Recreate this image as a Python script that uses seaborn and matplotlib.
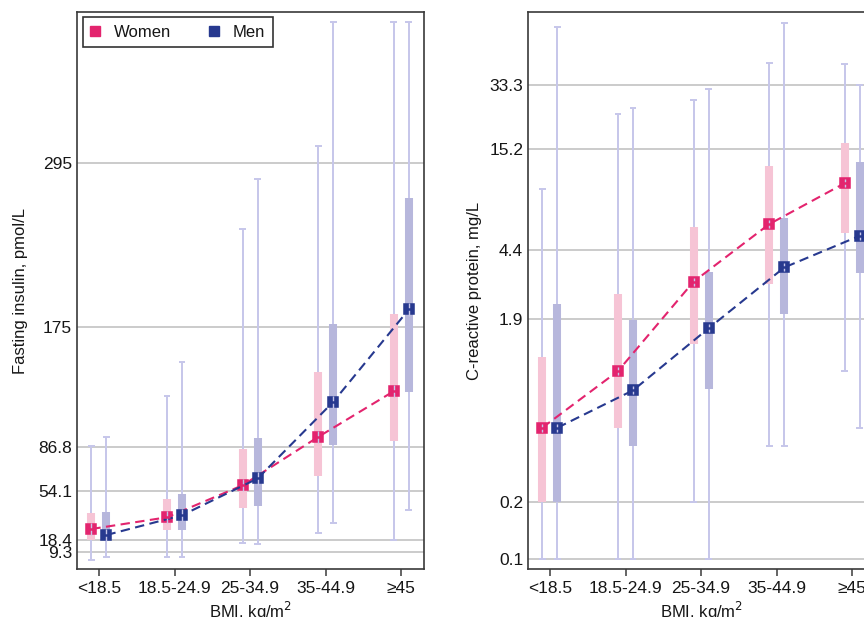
# BMI category vs fasting insulin and CRP, women vs men (median, IQR, range)

import numpy as np
import pandas as pd
import seaborn as sns
import matplotlib.pyplot as plt
from matplotlib.lines import Line2D

# categories
bmi_cats = ["<18.5", "18.5-24.9", "25-34.9", "35-44.9", "\u226545"]
sexes = ["Women", "Men"]

# fasting insulin, pmol/L
ins_w_med = [26.4, 35.0, 58.5, 94.0, 127.6]
ins_w_q1 = [18.5, 25.4, 42.1, 65.4, 91.1]
ins_w_q3 = [38.2, 48.2, 84.8, 141.8, 184.3]
ins_w_lo = [3.9, 5.8, 16.1, 23.7, 18.1]
ins_w_hi = [87.4, 124.0, 246.5, 307.8, 399.0]

ins_m_med = [22.0, 36.5, 63.5, 119.8, 187.7]
ins_m_q1 = [18.3, 26.0, 43.1, 88.4, 126.7]
ins_m_q3 = [38.9, 52.4, 92.9, 176.9, 269.3]
ins_m_lo = [5.8, 5.8, 15.7, 31.1, 40.7]
ins_m_hi = [94.0, 149.0, 283.5, 399.0, 399.0]

# C-reactive protein, mg/L
crp_w_med = [0.5, 1.0, 2.99, 6.05, 10.0]
crp_w_q1 = [0.2, 0.5, 1.40, 2.9, 5.42]
crp_w_q3 = [1.19, 2.57, 5.86, 12.36, 16.4]
crp_w_lo = [0.1, 0.1, 0.2, 0.4, 1.0]
crp_w_hi = [9.3, 23.3, 27.8, 43.8, 42.9]

crp_m_med = [0.5, 0.79, 1.69, 3.56, 5.25]
crp_m_q1 = [0.2, 0.4, 0.8, 2.01, 3.31]
crp_m_q3 = [2.27, 1.88, 3.35, 6.51, 12.98]
crp_m_lo = [0.1, 0.1, 0.1, 0.4, 0.5]
crp_m_hi = [68.0, 25.2, 31.8, 71.4, 33.3]

# y tick labels
ins_ticks = [9.3, 18.4, 54.1, 86.8, 175, 295]
ins_ticklabels = ["9.3", "18.4", "54.1", "86.8", "175", "295"]
crp_ticks = [0.1, 0.2, 1.9, 4.4, 15.2, 33.3]
crp_ticklabels = ["0.1", "0.2", "1.9", "4.4", "15.2", "33.3"]

PINK = "#e3246e"
NAVY = "#27398f"
PINK_BOX = "#f6c4d5"
NAVY_BOX = "#b7b7dc"
WHISK = "#c6c6ea"
TXT = "#161616"

sns.set_style("white")
plt.rcParams['font.family'] = ['Liberation Sans', 'DejaVu Sans']

fig = plt.figure(figsize=(8.64, 6.17), dpi=100)
ax1 = fig.add_axes([0.0891, 0.0778, 0.4016, 0.9027])
ax2 = fig.add_axes([0.6111, 0.0778, 0.4016, 0.9027])

DODGE = 0.1


def draw_panel(ax, stats, log=False):
    xs = np.arange(len(bmi_cats))
    for i, (sex, (med, q1, q3, lo, hi)) in enumerate(stats.items()):
        off = -DODGE if i == 0 else DODGE
        x = xs + off
        box_col = PINK_BOX if sex == "Women" else NAVY_BOX
        # whiskers with caps
        ax.vlines(x, lo, hi, color=WHISK, lw=1.4, zorder=1)
        ax.hlines(lo, x - 0.045, x + 0.045, color=WHISK, lw=1.4, zorder=1)
        ax.hlines(hi, x - 0.045, x + 0.045, color=WHISK, lw=1.4, zorder=1)
        # IQR bars
        ax.vlines(x, q1, q3, color=box_col, lw=5.8, zorder=2)

    df = pd.concat([
        pd.DataFrame({"bmi": bmi_cats, "sex": sex, "val": v[0]})
        for sex, v in stats.items()
    ])
    n_before = len(ax.lines)
    sns.pointplot(
        data=df, x="bmi", y="val", hue="sex", order=bmi_cats, hue_order=sexes,
        palette=[PINK, NAVY], markers="s", linestyles="--", dodge=2 * DODGE,
        errorbar=None, legend=False, ax=ax, markersize=7.5, linewidth=1.5,
    )
    for ln in ax.lines[n_before:]:
        ln.set_dashes((4.5, 2.6))
        ln.set_zorder(3)

    # thin whisker through the median marker + median tick ("H" look)
    for i, (sex, (med, q1, q3, lo, hi)) in enumerate(stats.items()):
        off = -DODGE if i == 0 else DODGE
        x = xs + off
        col = PINK if sex == "Women" else NAVY
        med = np.asarray(med, dtype=float)
        if log:
            a, b = med / 1.05, med * 1.05
        else:
            a, b = med - 4.5, med + 4.5
        ax.vlines(x, a, b, color=WHISK, lw=1.0, zorder=4)
        ax.hlines(med, x - 0.035, x + 0.035, color=col, lw=1.8, zorder=5)

    ax.set_xlim(-0.29, 4.3)
    ax.grid(False)
    ax.yaxis.grid(True, color="#bdbdbd", lw=1.1)
    ax.set_axisbelow(True)
    for s in ax.spines.values():
        s.set_visible(True)
        s.set_color("#3a3a3a")
        s.set_linewidth(1.2)
    ax.tick_params(axis="x", length=5, width=1.1, color="#3a3a3a", pad=4,
                   labelsize=12.5, labelcolor=TXT, bottom=True)
    ax.tick_params(axis="y", length=0, pad=3.5, labelsize=12.5, labelcolor=TXT)
    ax.set_xlabel("BMI, kg/m$^2$", fontsize=12, color=TXT)
    ax.xaxis.set_label_coords(0.5, -0.055)


# left panel: fasting insulin (linear)
draw_panel(ax1, {
    "Women": (ins_w_med, ins_w_q1, ins_w_q3, ins_w_lo, ins_w_hi),
    "Men": (ins_m_med, ins_m_q1, ins_m_q3, ins_m_lo, ins_m_hi),
})
ax1.set_ylim(-2.97, 406.1)
ax1.set_yticks(ins_ticks)
ax1.set_yticklabels(ins_ticklabels)
ax1.set_ylabel("Fasting insulin, pmol/L", fontsize=12, color=TXT)
ax1.yaxis.set_label_coords(-0.141, 0.5)

handles = [
    Line2D([], [], marker="s", ls="none", color=PINK, markersize=7.5),
    Line2D([], [], marker="s", ls="none", color=NAVY, markersize=7.5),
]
leg = ax1.legend(handles, sexes, loc="upper left", bbox_to_anchor=(0.017, 0.991),
                 ncol=2, fontsize=12, frameon=True, fancybox=False,
                 edgecolor="#333333", framealpha=1, borderpad=0.45,
                 handlelength=0.6, handletextpad=0.8, columnspacing=2.3,
                 borderaxespad=0)
leg.get_frame().set_linewidth(1.2)
for t in leg.get_texts():
    t.set_color(TXT)

# right panel: CRP (log)
ax2.set_yscale("log")
draw_panel(ax2, {
    "Women": (crp_w_med, crp_w_q1, crp_w_q3, crp_w_lo, crp_w_hi),
    "Men": (crp_m_med, crp_m_q1, crp_m_q3, crp_m_lo, crp_m_hi),
}, log=True)
ax2.set_ylim(0.0885, 81.4)
ax2.set_yticks(crp_ticks)
ax2.set_yticklabels(crp_ticklabels)
ax2.minorticks_off()
ax2.set_ylabel("C-reactive protein, mg/L", fontsize=12, color=TXT)
ax2.yaxis.set_label_coords(-0.1326, 0.5)

fig.savefig("out.png", dpi=100)
